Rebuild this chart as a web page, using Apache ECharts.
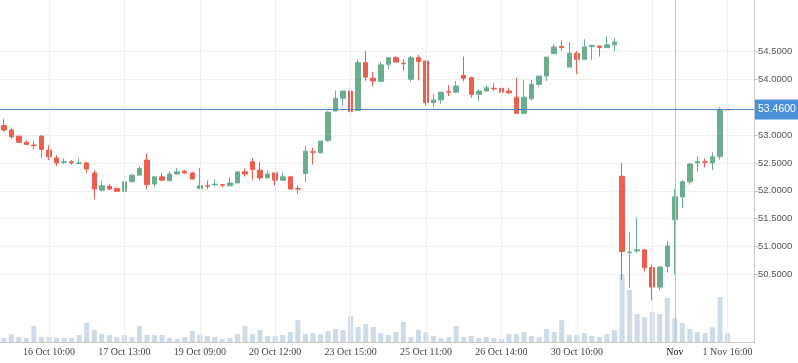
<!DOCTYPE html>
<html><head><meta charset="utf-8">
<script src="https://cdn.jsdelivr.net/npm/echarts@6/dist/echarts.min.js"></script>
<style>html,body{margin:0;padding:0;background:#fff}#c{width:798px;height:363px}</style>
</head><body><div id="c"></div>
<script>
// candle data (index = bar number)
const open  = [53.17,53.09,52.98,52.87,52.82,52.98,52.73,52.59,52.51,52.52,52.49,52.50,52.32,52.01,52.08,52.04,51.99,52.16,52.28,52.55,52.12,52.25,52.18,52.30,52.35,52.32,52.04,52.09,52.11,52.11,52.09,52.14,52.34,52.52,52.37,52.23,52.32,52.19,52.25,52.04,52.31,52.70,52.68,52.90,53.43,53.66,53.79,53.44,54.30,54.02,53.96,54.27,54.39,54.29,54.00,54.39,54.33,53.58,53.63,53.78,53.77,54.07,54.03,53.73,53.79,53.84,53.84,53.79,53.68,53.39,53.65,53.91,54.06,54.46,54.59,54.22,54.47,54.36,54.59,54.60,54.57,54.62,52.26,50.89,50.92,50.94,50.62,50.27,50.64,51.48,51.89,52.16,52.50,52.52,52.50,52.61,53.46];
const close = [53.09,52.97,52.87,52.83,52.81,52.74,52.61,52.50,52.52,52.50,52.50,52.39,52.03,52.09,52.03,51.99,52.16,52.28,52.40,52.11,52.25,52.19,52.30,52.34,52.32,52.21,52.09,52.08,52.12,52.10,52.14,52.34,52.30,52.38,52.23,52.30,52.19,52.25,52.03,52.03,52.71,52.69,52.89,53.41,53.66,53.79,53.42,54.30,54.04,53.97,54.26,54.39,54.31,54.28,54.39,54.32,53.58,53.63,53.77,53.77,53.88,54.02,53.73,53.79,53.85,53.83,53.77,53.76,53.39,53.68,53.91,54.06,54.40,54.58,54.57,54.47,54.36,54.58,54.61,54.57,54.62,54.67,50.91,50.90,50.94,50.62,50.27,50.63,51.01,51.89,52.16,52.48,52.52,52.51,52.61,53.46,53.45];
const low   = [53.06,52.93,52.86,52.83,52.75,52.59,52.55,52.44,52.48,52.47,52.49,52.32,51.85,51.99,52.01,51.99,51.94,52.16,52.28,52.03,52.07,52.18,52.18,52.29,52.30,52.21,52.04,52.03,52.07,52.06,52.09,52.14,52.25,52.19,52.19,52.23,52.09,52.19,52.03,51.94,52.15,52.47,52.68,52.88,53.43,53.53,53.35,53.43,53.97,53.87,53.96,54.18,54.31,54.15,53.96,53.98,53.53,53.50,53.56,53.70,53.75,53.96,53.67,53.61,53.79,53.79,53.75,53.73,53.39,53.38,53.62,53.87,53.97,54.46,54.51,54.22,54.09,54.36,54.35,54.41,54.57,54.51,50.40,50.26,50.88,50.55,50.03,50.21,50.53,50.50,51.69,52.11,52.34,52.42,52.37,52.56,53.45];
const high  = [53.29,53.14,52.99,52.91,52.89,53.00,52.82,52.64,52.58,52.55,52.58,52.52,52.37,52.19,52.12,52.06,52.18,52.30,52.44,52.67,52.25,52.32,52.34,52.41,52.37,52.34,52.41,52.18,52.21,52.12,52.25,52.34,52.40,52.59,52.52,52.37,52.32,52.32,52.27,52.09,52.80,52.77,52.89,53.43,53.80,53.79,53.79,54.36,54.51,54.13,54.31,54.39,54.42,54.36,54.42,54.44,54.33,53.74,53.77,53.90,53.97,54.41,54.05,53.82,53.90,53.93,53.86,53.85,54.03,53.99,53.99,54.06,54.40,54.63,54.70,54.67,54.51,54.72,54.62,54.60,54.78,54.74,52.50,51.26,51.52,50.95,50.67,50.65,51.10,52.03,52.19,52.50,52.61,52.58,52.69,53.50,53.46];
const volume = [4,8,5,4,16,5,5,4,4,4,7,19,12,8,7,5,7,5,16,7,7,7,4,3,5,11,7,6,5,3,4,8,16,8,12,6,6,7,10,22,8,9,8,11,13,12,26,15,18,15,9,7,10,20,5,12,10,6,4,5,16,5,6,4,5,4,3,8,8,10,6,5,13,10,22,7,7,9,6,5,8,12,68,52,28,25,30,28,44,24,19,13,10,9,15,45,9];
const slotCount = 100;
const labelIndex = [6,16,26,36,46,56,66,76,89,96];
const labelText  = ['16 Oct 10:00','17 Oct 13:00','19 Oct 09:00','20 Oct 12:00','23 Oct 15:00','25 Oct 11:00','26 Oct 14:00','30 Oct 10:00','Nov','1 Nov 16:00'];
const gridIndex  = [6,16,26,36,46,56,66,76,86,96];
const lastPrice = 53.46;
const cursorIndex = 89;
const priceTicks = {min:50.5, max:54.5, step:0.5};

const categories = [];
for (let i = 0; i < slotCount; i++) {
  const k = labelIndex.indexOf(i);
  categories.push(k >= 0 ? labelText[k] : ' ' + i);
}
const candles = open.map((o, i) => [o, close[i], low[i], high[i]]);

const UP = '#6aae8f', DOWN = '#ec5e4e';
const chart = echarts.init(document.getElementById('c'), null, {renderer: 'canvas'});
const showLabel = (idx) => labelIndex.indexOf(idx) >= 0;
chart.setOption({
  animation: false,
  backgroundColor: '#fff',
  grid: [
    {left: 0, right: 44, top: 51.5, bottom: 88.7},
    {left: 0, right: 44, top: 0, bottom: 21}
  ],
  xAxis: [
    {type: 'category', gridIndex: 0, data: categories, show: false},
    {type: 'category', gridIndex: 1, data: categories,
     axisLine: {lineStyle: {color: '#c8c8c8'}},
     axisTick: {alignWithLabel: true, interval: showLabel, length: 4, lineStyle: {color: '#c8c8c8'}},
     axisLabel: {interval: showLabel, margin: 5, fontFamily: 'Liberation Serif', fontSize: 10, color: '#444',
       formatter: (v) => v === 'Nov' ? '{b|Nov}' : v,
       rich: {b: {color: '#111', fontFamily: 'Liberation Serif', fontSize: 10}}},
     splitLine: {show: false}}
  ],
  yAxis: [
    {type: 'value', gridIndex: 0, position: 'right', min: priceTicks.min, max: priceTicks.max, interval: priceTicks.step,
     axisLine: {show: false},
     axisTick: {show: true, length: 4, lineStyle: {color: '#c8c8c8'}},
     axisLabel: {margin: 4, fontFamily: 'Liberation Sans', fontSize: 9.5, color: '#555', formatter: (v) => v.toFixed(4)},
     splitLine: {lineStyle: {color: '#eeeeee'}}},
    {type: 'value', gridIndex: 1, position: 'right', min: 0, max: 342,
     axisLine: {show: true, lineStyle: {color: '#c8c8c8'}},
     axisTick: {show: false}, axisLabel: {show: false}, splitLine: {show: false}}
  ],
  series: [
    {type: 'bar', xAxisIndex: 1, yAxisIndex: 1, data: volume, barWidth: 5, z: 1,
     itemStyle: {color: '#cddbeb'},
     markLine: {silent: true, symbol: 'none', animation: false, label: {show: false},
       data: gridIndex.map(i => ({xAxis: i, lineStyle: {color: '#eeeeee', type: 'solid', width: 1}}))
         .concat([{xAxis: cursorIndex, lineStyle: {color: '#c2c2c2', type: 'solid', width: 1}}])}},
    {type: 'candlestick', xAxisIndex: 0, yAxisIndex: 0, data: candles, barWidth: 5, clip: false, z: 3,
     itemStyle: {color: UP, color0: DOWN, borderColor: UP, borderColor0: DOWN, borderWidth: 1},
     markLine: {silent: true, symbol: 'none', animation: false,
       lineStyle: {color: '#4a86c6', type: 'solid', width: 1},
       label: {show: true, position: 'end', distance: 1, formatter: lastPrice.toFixed(4),
         backgroundColor: '#4a90d9', color: '#fff', fontFamily: 'Liberation Sans', fontSize: 10.5, padding: [5, 3, 4, 3]},
       data: [{yAxis: lastPrice}]}}
  ]
});
</script></body></html>
